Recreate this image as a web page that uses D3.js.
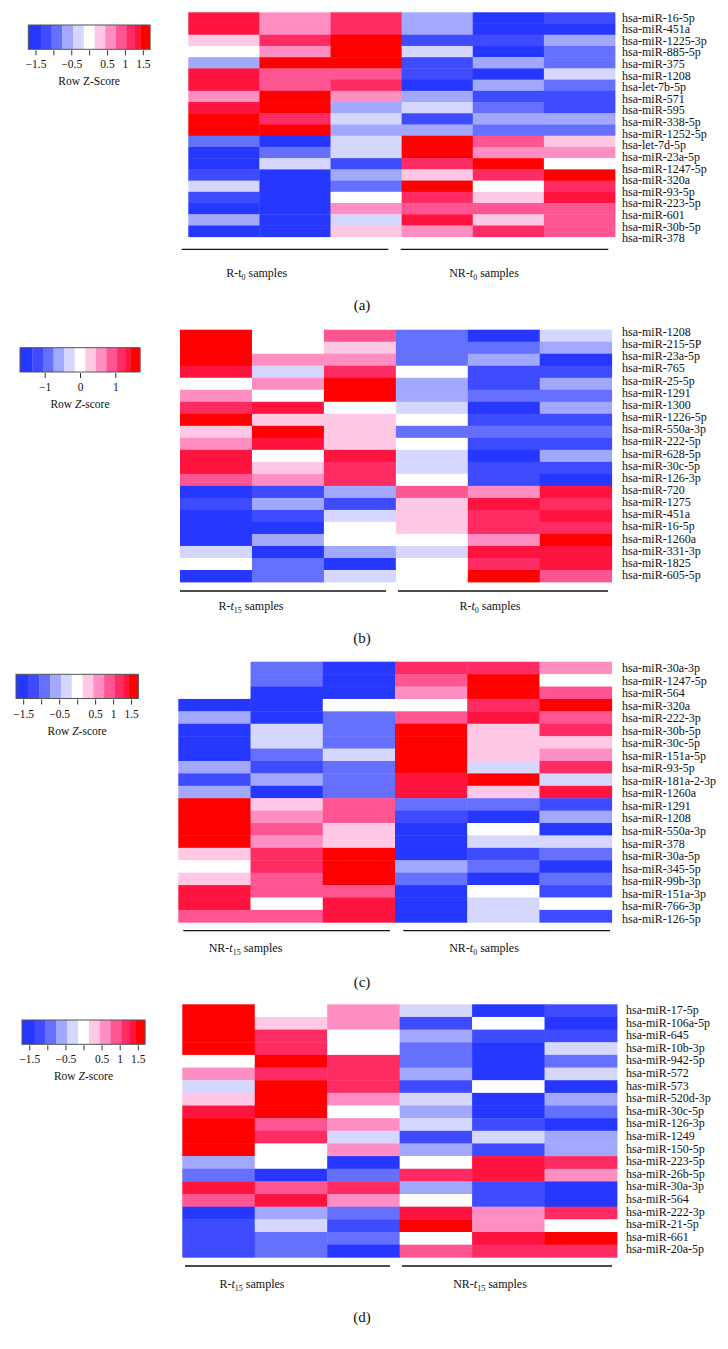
<!DOCTYPE html>
<html><head><meta charset="utf-8">
<script src="https://cdn.jsdelivr.net/npm/d3@7"></script>
<style>
body{margin:0;background:#fff}
svg{display:block}
text{font-family:"Liberation Serif","DejaVu Serif",serif;fill:#111}
</style>
</head><body>
<svg id="chart" width="728" height="1349"></svg>
<script>
// ---------- colour key (row z-score levels) ----------
const colorThresholds = [-1.35,-1.05,-0.75,-0.45,-0.15,0.15,0.45,0.75,1.05,1.28,1.43];
const colorRange = ["#2638ff","#3f4bff","#6670ff","#a3a8ff","#d5d7ff","#ffffff","#ffc8e4","#ff8fc3","#ff5593","#ff2b63","#ff133f","#ff0000"];
const keyDomain = [-1.7, 1.7];

// ---------- panel (a) ----------
const rowsA = ["hsa-miR-16-5p","hsa-miR-451a","hsa-miR-1225-3p","hsa-miR-885-5p","hsa-miR-375","hsa-miR-1208","hsa-let-7b-5p","hsa-miR-571","hsa-miR-595","hsa-miR-338-5p","hsa-miR-1252-5p","hsa-let-7d-5p","hsa-miR-23a-5p","hsa-miR-1247-5p","hsa-miR-320a","hsa-miR-93-5p","hsa-miR-223-5p","hsa-miR-601","hsa-miR-30b-5p","hsa-miR-378"];
const valuesA = [
 [1.35,0.6,1.2,-0.6,-1.5,-1.2],
 [1.35,0.6,1.2,-0.6,-1.5,-1.5],
 [0.3,1.2,1.5,-1.2,-1.2,-0.6],
 [0,0.6,1.5,-0.3,-1.5,-0.9],
 [-0.6,1.5,1.5,-1.2,-0.6,-0.9],
 [1.35,0.9,0.9,-1.2,-1.5,-0.3],
 [1.35,0.9,1.2,-1.5,-0.6,-0.9],
 [0.6,1.5,0.6,-0.6,-1.2,-1.2],
 [1.35,1.5,-0.6,-0.3,-0.9,-1.2],
 [1.5,1.2,-0.3,-1.2,-0.6,-0.6],
 [1.5,1.5,-0.6,-0.6,-0.9,-0.9],
 [-0.9,-1.5,-0.3,1.5,0.9,0.3],
 [-1.5,-0.9,-0.3,1.5,0.6,0.6],
 [-1.5,-0.3,-1.2,1.2,1.5,0],
 [-1.2,-1.5,-0.6,0.3,1.2,1.5],
 [-0.3,-1.5,-0.9,1.5,0,1.2],
 [-1.2,-1.5,0,1.2,0.3,1.35],
 [-1.5,-1.5,0.6,0.9,0.9,0.9],
 [-0.6,-1.5,-0.3,1.35,0.3,0.9],
 [-1.5,-1.5,0.3,0.6,1.2,0.9]
];
const groupsA = [["R-","t","0"," samples",false],["NR-","t","0"," samples",true]];
const tickMarksA = [-1.5,-1,-0.5,0,0.5,1,1.5];
const tickLabelsA = [-1.5,-0.5,0.5,1,1.5];
const keyTitleA = ["Row ","Z","-Score",false];

// ---------- panel (b) ----------
const rowsB = ["hsa-miR-1208","hsa-miR-215-5P","hsa-miR-23a-5p","hsa-miR-765","hsa-miR-25-5p","hsa-miR-1291","hsa-miR-1300","hsa-miR-1226-5p","hsa-miR-550a-3p","hsa-miR-222-5p","hsa-miR-628-5p","hsa-miR-30c-5p","hsa-miR-126-3p","hsa-miR-720","hsa-miR-1275","hsa-miR-451a","hsa-miR-16-5p","hsa-miR-1260a","hsa-miR-331-3p","hsa-miR-1825","hsa-miR-605-5p"];
const valuesB = [
 [1.5,0,0.9,-0.9,-1.5,-0.3],
 [1.5,0,0.3,-0.9,-0.9,-0.6],
 [1.5,0.6,0.6,-0.9,-0.6,-1.5],
 [1.35,-0.3,1.2,0,-1.2,-1.2],
 [0,0.6,1.5,-0.6,-1.2,-0.6],
 [0.6,0,1.5,-0.6,-0.9,-0.9],
 [1.2,1.35,0,-0.3,-1.5,-0.6],
 [1.5,0.3,0.3,0,-1.2,-1.2],
 [0.3,1.5,0.3,-0.9,-0.9,-0.9],
 [0.6,1.35,0.3,0,-1.2,-1.2],
 [1.35,0,1.35,-0.3,-1.5,-0.6],
 [1.35,0.3,1.2,-0.3,-1.2,-1.2],
 [0.9,0.6,1.2,0,-1.2,-1.5],
 [-1.5,-1.2,-0.6,0.9,0.6,1.35],
 [-1.2,-0.6,-1.2,0.3,1.35,1.2],
 [-1.5,-1.2,-0.3,0.3,1.2,1.35],
 [-1.5,-1.5,0,0.3,1.2,1.2],
 [-1.5,-0.6,0,0,0.6,1.5],
 [-0.3,-1.5,-0.6,-0.3,1.35,1.35],
 [0,-0.9,-1.5,0,1.2,1.35],
 [-1.5,-0.9,-0.3,0,1.5,0.9]
];
const groupsB = [["R-","t","15"," samples",true],["R-","t","0"," samples",true]];
const tickMarksB = [-1,0,1];
const tickLabelsB = [-1,0,1];
const keyTitleB = ["Row ","Z","-score",true];

// ---------- panel (c) ----------
const rowsC = ["hsa-miR-30a-3p","hsa-miR-1247-5p","hsa-miR-564","hsa-miR-320a","hsa-miR-222-3p","hsa-miR-30b-5p","hsa-miR-30c-5p","hsa-miR-151a-5p","hsa-miR-93-5p","hsa-miR-181a-2-3p","hsa-miR-1260a","hsa-miR-1291","hsa-miR-1208","hsa-miR-550a-3p","hsa-miR-378","hsa-miR-30a-5p","hsa-miR-345-5p","hsa-miR-99b-3p","hsa-miR-151a-3p","hsa-miR-766-3p","hsa-miR-126-5p"];
const valuesC = [
 [0,-0.9,-1.5,1.2,1.2,0.6],
 [0,-0.9,-1.5,0.9,1.5,0],
 [0,-1.5,-1.5,0.6,1.5,0.9],
 [-1.5,-1.5,0,0,1.2,1.5],
 [-0.6,-1.5,-0.9,0.9,1.35,0.9],
 [-1.5,-0.3,-0.9,1.5,0.3,1.2],
 [-1.5,-0.3,-0.9,1.5,0.3,0.3],
 [-1.5,-0.9,-0.3,1.5,0.3,0.6],
 [-0.6,-1.2,-0.9,1.5,-0.3,1.2],
 [-1.2,-0.6,-0.9,1.35,1.5,-0.3],
 [-0.6,-1.5,-0.9,1.35,0.3,1.35],
 [1.5,0.3,0.9,-0.9,-0.9,-1.2],
 [1.5,0.6,0.9,-1.2,-1.5,-0.6],
 [1.5,0.9,0.3,-1.5,0,-1.5],
 [1.5,0.6,0.3,-1.5,-0.3,-0.3],
 [0.3,1.2,1.5,-1.5,-1.2,-0.9],
 [0,1.2,1.5,-0.6,-0.9,-1.5],
 [0.3,0.9,1.5,-0.9,-1.5,-0.9],
 [1.35,0.9,0.9,-1.5,0,-1.2],
 [1.35,0,1.35,-1.5,-0.3,0],
 [0.9,0.9,1.35,-1.5,-0.3,-1.2]
];
const groupsC = [["NR-","t","15"," samples",true],["NR-","t","0"," samples",true]];
const tickMarksC = [-1.5,-1,-0.5,0,0.5,1,1.5];
const tickLabelsC = [-1.5,-0.5,0.5,1,1.5];
const keyTitleC = ["Row ","Z","-score",true];

// ---------- panel (d) ----------
const rowsD = ["hsa-miR-17-5p","hsa-miR-106a-5p","hsa-miR-645","hsa-miR-10b-3p","hsa-miR-942-5p","hsa-miR-572","has-miR-573","hsa-miR-520d-3p","hsa-miR-30c-5p","hsa-miR-126-3p","hsa-miR-1249","hsa-miR-150-5p","hsa-miR-223-5p","hsa-miR-26b-5p","hsa-miR-30a-3p","hsa-miR-564","hsa-miR-222-3p","hsa-miR-21-5p","hsa-miR-661","hsa-miR-20a-5p"];
const valuesD = [
 [1.5,0,0.6,-0.3,-1.5,-1.2],
 [1.5,0.3,0.6,-1.2,0,-1.5],
 [1.5,1.2,0,-0.6,-1.2,-1.2],
 [1.5,1.2,0,-0.9,-1.5,-0.3],
 [0,1.5,1.2,-0.9,-1.5,-0.9],
 [0.6,1.2,1.2,-0.6,-1.5,-0.3],
 [-0.3,1.5,1.2,-1.2,0,-1.5],
 [0.3,1.5,0.6,-0.3,-1.5,-0.6],
 [1.35,1.5,0,-0.6,-1.5,-0.9],
 [1.5,0.9,0.6,-0.3,-1.2,-1.5],
 [1.5,1.2,-0.3,-1.2,-0.3,-0.6],
 [1.5,0,0.6,-0.6,-1.2,-0.6],
 [-0.6,0,-1.5,0,1.35,1.2],
 [-0.9,-1.5,-0.9,1.2,1.35,0.6],
 [1.35,0.9,1.2,-0.6,-1.2,-1.5],
 [0.9,1.35,0.6,0,-1.2,-1.5],
 [-1.5,-0.6,-0.9,1.35,0.6,1.2],
 [-1.2,-0.3,-1.2,1.5,0.6,0],
 [-1.2,-0.9,-0.9,0,1.35,1.5],
 [-1.2,-0.9,-1.5,0.9,1.2,1.2]
];
const groupsD = [["R-","t","15"," samples",true],["NR-","t","15"," samples",true]];
const tickMarksD = [-1.5,-1,-0.5,0,0.5,1,1.5];
const tickLabelsD = [-1.5,-0.5,0.5,1,1.5];
const keyTitleD = ["Row ","Z","-score",true];

// ---------- layout (positions only) ----------
const layouts = [
 {rows:rowsA, values:valuesA, groups:groupsA, ticks:tickMarksA, tickLabels:tickLabelsA, title:keyTitleA, tag:"(a)",
  hx:[188.3,615], hy:[12.3,236.7], lx:622, ly:[21.5,242.3], lineY:249.3, segs:[[181.7,388.3],[400.7,608.3]],
  gx:[256.7,484], gy:277, tagY:310, kx:[28.3,150], ky:[25,49.3]},
 {rows:rowsB, values:valuesB, groups:groupsB, ticks:tickMarksB, tickLabels:tickLabelsB, title:keyTitleB, tag:"(b)",
  hx:[180,611.7], hy:[329.7,582], lx:622, ly:[336,579], lineY:591, segs:[[180,386],[398,608]],
  gx:[251,490], gy:610, tagY:643, kx:[20,140], ky:[347.7,372]},
 {rows:rowsC, values:valuesC, groups:groupsC, ticks:tickMarksC, tickLabels:tickLabelsC, title:keyTitleC, tag:"(c)",
  hx:[178.3,611.7], hy:[661.7,922.3], lx:622, ly:[672,922.8], lineY:930.7, segs:[[183.3,390],[403.3,610]],
  gx:[245.5,484], gy:952, tagY:987, kx:[16,138.3], ky:[674.3,698.5]},
 {rows:rowsD, values:valuesD, groups:groupsD, ticks:tickMarksD, tickLabels:tickLabelsD, title:keyTitleD, tag:"(d)",
  hx:[182.3,617], hy:[1004.3,1257.3], lx:626, ly:[1014,1253.4], lineY:1266, segs:[[185,390],[402,612]],
  gx:[252,490], gy:1288, tagY:1322, kx:[22,145], ky:[1020,1044.3]}
];

const color = d3.scaleThreshold().domain(colorThresholds).range(colorRange);
const svg = d3.select("#chart");

layouts.forEach(L => {
  const g = svg.append("g");
  const nCols = L.values[0].length;
  const x = d3.scaleBand().domain(d3.range(nCols)).range(L.hx);
  const y = d3.scaleBand().domain(d3.range(L.rows.length)).range(L.hy);

  // heatmap cells
  const cells = [];
  L.values.forEach((row, r) => row.forEach((v, c) => cells.push({r, c, v})));
  g.append("g").selectAll("rect").data(cells).join("rect")
    .attr("x", d => x(d.c))
    .attr("y", d => y(d.r))
    .attr("width", x.bandwidth() + 0.4)
    .attr("height", y.bandwidth() + 0.4)
    .attr("fill", d => color(d.v));

  // row labels
  const ly = d3.scaleLinear().domain([0, L.rows.length - 1]).range(L.ly);
  g.append("g").selectAll("text").data(L.rows).join("text")
    .attr("x", L.lx).attr("y", (d, i) => ly(i))
    .attr("font-size", 12)
    .text(d => d);

  // group brackets
  g.append("g").selectAll("line").data(L.segs).join("line")
    .attr("x1", d => d[0]).attr("x2", d => d[1])
    .attr("y1", L.lineY).attr("y2", L.lineY)
    .attr("stroke", "#111").attr("stroke-width", 1.3);

  L.groups.forEach((gr, i) => {
    const t = g.append("text").attr("x", L.gx[i]).attr("y", L.gy)
      .attr("text-anchor", "middle").attr("font-size", 12);
    t.append("tspan").text(gr[0]);
    t.append("tspan").text(gr[1]).attr("font-style", gr[4] ? "italic" : "normal");
    t.append("tspan").text(gr[2]).attr("font-size", 8).attr("dy", 3);
    t.append("tspan").text(gr[3]).attr("dy", -3);
  });

  // panel tag
  g.append("text").attr("x", 362).attr("y", L.tagY)
    .attr("text-anchor", "middle").attr("font-size", 15).text(L.tag);

  // colour key
  const kx = d3.scaleLinear().domain(keyDomain).range(L.kx);
  const edges = [keyDomain[0], ...colorThresholds, keyDomain[1]];
  const bands = d3.range(edges.length - 1).map(i => ({a: edges[i], b: edges[i + 1], col: colorRange[i]}));
  const key = g.append("g");
  key.selectAll("rect.band").data(bands).join("rect")
    .attr("class", "band")
    .attr("x", d => kx(d.a)).attr("width", d => kx(d.b) - kx(d.a) + 0.3)
    .attr("y", L.ky[0]).attr("height", L.ky[1] - L.ky[0])
    .attr("fill", d => d.col);
  key.append("rect")
    .attr("x", L.kx[0]).attr("y", L.ky[0])
    .attr("width", L.kx[1] - L.kx[0]).attr("height", L.ky[1] - L.ky[0])
    .attr("fill", "none").attr("stroke", "#555").attr("stroke-width", 1);

  const fmt = d3.format("");
  const axis = d3.axisBottom(kx).tickValues(L.ticks).tickSize(5).tickPadding(5)
    .tickFormat(v => L.tickLabels.includes(v) ? fmt(v) : "");
  const ax = key.append("g").attr("transform", `translate(0,${L.ky[1] + 1})`).call(axis);
  ax.select(".domain").remove();
  ax.selectAll(".tick line").attr("stroke", "#333");
  ax.selectAll(".tick text").attr("font-size", 11.5).attr("font-family", '"Liberation Serif","DejaVu Serif",serif').attr("fill", "#111");

  const tt = key.append("text").attr("x", (L.kx[0] + L.kx[1]) / 2).attr("y", L.ky[1] + 36)
    .attr("text-anchor", "middle").attr("font-size", 11.5);
  tt.append("tspan").text(L.title[0]);
  tt.append("tspan").text(L.title[1]).attr("font-style", L.title[3] ? "italic" : "normal");
  tt.append("tspan").text(L.title[2]);
});
</script>
</body></html>
